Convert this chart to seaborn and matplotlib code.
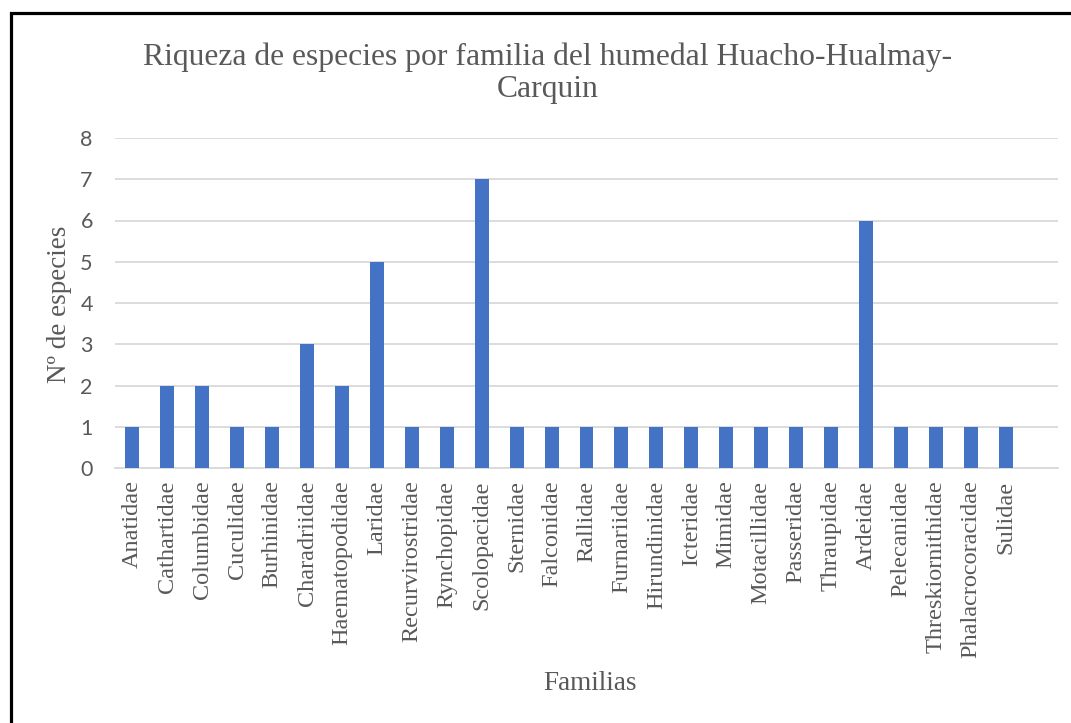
import seaborn as sns
import matplotlib.pyplot as plt
import matplotlib.patches as mpatches
import pandas as pd

families = ["Anatidae", "Cathartidae", "Columbidae", "Cuculidae", "Burhinidae",
            "Charadriidae", "Haematopodidae", "Laridae", "Recurvirostridae",
            "Rynchopidae", "Scolopacidae", "Sternidae", "Falconidae", "Rallidae",
            "Furnariidae", "Hirundinidae", "Icteridae", "Mimidae", "Motacillidae",
            "Passeridae", "Thraupidae", "Ardeidae", "Pelecanidae",
            "Threskiornithidae", "Phalacrocoracidae", "Sulidae"]
species = [1, 2, 2, 1, 1, 3, 2, 5, 1, 1, 7, 1, 1, 1, 1, 1, 1, 1, 1, 1, 1, 6, 1, 1, 1, 1]
yticks = list(range(0, 9))

title = "Riqueza de especies por familia del humedal Huacho-Hualmay-\nCarquin"
xlabel = "Familias"
ylabel = "Nº de especies"

BAR = "#4472C4"
TEXT = "#595959"
GRID = "#D9D9D9"
SERIF = "Liberation Serif"

sns.set_style("white")
plt.rcParams["font.family"] = ["Lato", "DejaVu Sans"]

df = pd.DataFrame({"familia": families, "especies": species})

fig = plt.figure(figsize=(10.71, 7.23), dpi=100)
ax = fig.add_axes([115 / 1071, 1 - 468 / 723, (1058 - 115) / 1071, (468 - 138) / 723])

sns.barplot(data=df, x="familia", y="especies", color=BAR, width=0.4,
            saturation=1, linewidth=0, ax=ax, zorder=3)

ax.set_ylim(0, 8)
ax.set_xlim(-0.5, len(families) + 0.5)
ax.set_yticks(yticks)
ax.yaxis.grid(True, color=GRID, linewidth=1.3, zorder=0)
ax.set_axisbelow(True)
for s in ["top", "right", "left"]:
    ax.spines[s].set_visible(False)
ax.spines["bottom"].set_color(GRID)
ax.spines["bottom"].set_linewidth(1.3)
ax.tick_params(axis="both", length=0)
ax.tick_params(axis="y", labelsize=15.5, labelcolor=TEXT, pad=16)
ax.tick_params(axis="x", pad=9)
ax.set_xticks(range(len(families)))
ax.set_xticklabels(families, rotation=90, fontsize=17.5, color=TEXT,
                   family=SERIF, va="top")
ax.set_xlabel("")
ax.set_ylabel("")

fig.text(60 / 1071, 1 - 304 / 723, ylabel, rotation=90, ha="center", va="center",
         fontsize=19.5, color=TEXT, family=SERIF)
fig.text(590 / 1071, 1 - 683 / 723, xlabel, ha="center", va="center",
         fontsize=19.5, color=TEXT, family=SERIF)
fig.text(548 / 1071, 1 - 73 / 723, title, ha="center", va="center",
         fontsize=22.8, color=TEXT, family=SERIF, multialignment="center",
         linespacing=1.15)

# outer frame (cut off at right and bottom edges)
frame = mpatches.Rectangle((10.5 / 1071, -0.05), 1.2, 1 - 12.5 / 723 + 0.05,
                           transform=fig.transFigure, fill=False,
                           edgecolor="black", linewidth=2.3, clip_on=False)
fig.patches.append(frame)

fig.savefig("out.png", dpi=100)
